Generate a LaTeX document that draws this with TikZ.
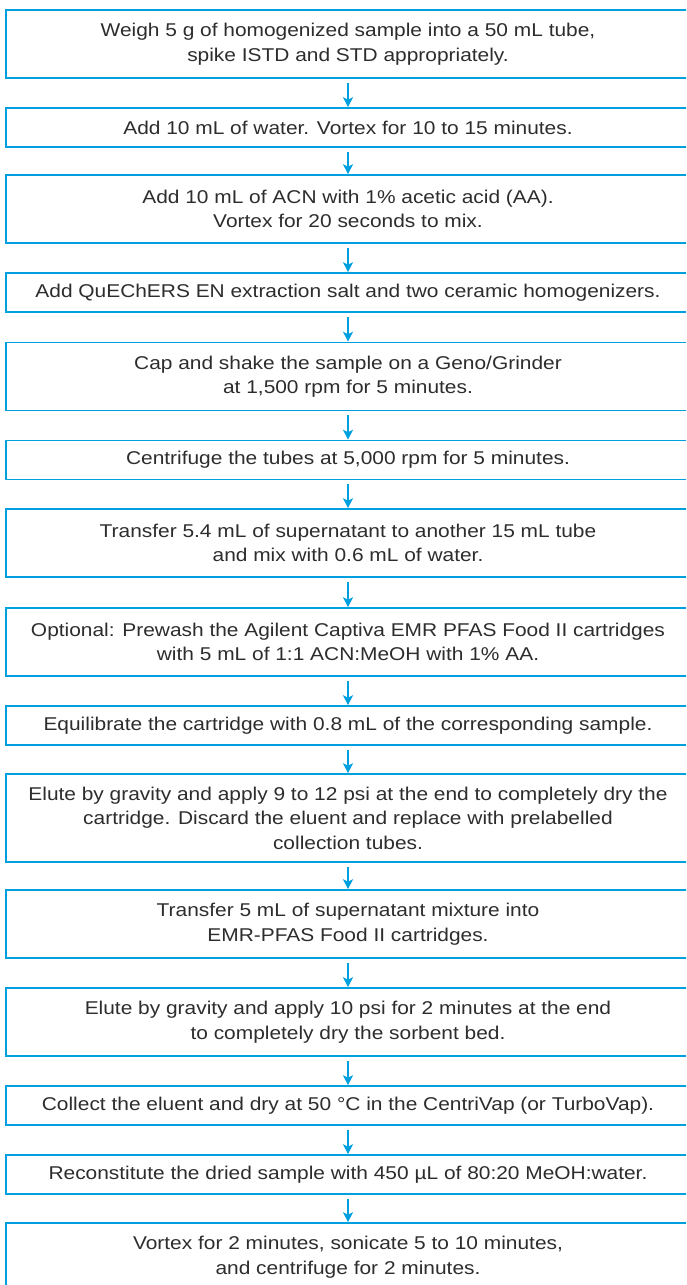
\documentclass[tikz,border=0pt]{standalone}
\usepackage{fontspec}
\setmainfont{Liberation Sans}[FakeStretch=1.13]
\usetikzlibrary{arrows.meta}
\definecolor{agblue}{RGB}{0,160,223}
\definecolor{txt}{RGB}{45,45,45}
\tikzset{
  stepbox/.style={draw=agblue, line width=1.6pt, minimum width=684pt, inner sep=0pt,
    align=center, text=txt, font=\fontsize{18.5}{24.5}\selectfont},
  one/.style={stepbox, minimum height=39pt},
  two/.style={stepbox, minimum height=68pt},
  three/.style={stepbox, minimum height=88pt},
  arr/.style={draw=agblue, line width=1.3pt, -{Stealth[length=10pt,width=10pt,inset=2.5pt]}}
}
\begin{document}
\begin{tikzpicture}[x=1pt,y=-1pt]
\useasboundingbox (0,0) rectangle (686,1285);
\clip (0,0) rectangle (686,1285);
\fill[white] (0,0) rectangle (686,1285);
\node[two]   (b1)  at (348,44)    {Weigh 5 g of homogenized sample into a 50 mL tube,\\ spike ISTD and STD appropriately.};
\node[one]   (b2)  at (348,127.5) {Add 10 mL of water. Vortex for 10 to 15 minutes.};
\node[two]   (b3)  at (348,209)   {Add 10 mL of ACN with 1\% acetic acid (AA).\\ Vortex for 20 seconds to mix.};
\node[one]   (b4)  at (348,292.5) {Add QuEChERS EN extraction salt and two ceramic homogenizers.};
\node[two]   (b5)  at (348,376.5) {Cap and shake the sample on a Geno/Grinder\\ at 1,500 rpm for 5 minutes.};
\node[one]   (b6)  at (348,460)   {Centrifuge the tubes at 5,000 rpm for 5 minutes.};
\node[two]   (b7)  at (348,543)   {Transfer 5.4 mL of supernatant to another 15 mL tube\\ and mix with 0.6 mL of water.};
\node[two]   (b8)  at (348,642)   {Optional: Prewash the Agilent Captiva EMR PFAS Food II cartridges\\ with 5 mL of 1:1 ACN:MeOH with 1\% AA.};
\node[one]   (b9)  at (348,725.5) {Equilibrate the cartridge with 0.8 mL of the corresponding sample.};
\node[three] (b10) at (348,818)   {Elute by gravity and apply 9 to 12 psi at the end to completely dry the\\ cartridge. Discard the eluent and replace with prelabelled\\ collection tubes.};
\node[two]   (b11) at (348,924)   {Transfer 5 mL of supernatant mixture into\\ EMR-PFAS Food II cartridges.};
\node[two]   (b12) at (348,1022)  {Elute by gravity and apply 10 psi for 2 minutes at the end\\ to completely dry the sorbent bed.};
\node[one]   (b13) at (348,1105.5){Collect the eluent and dry at 50 °C in the CentriVap (or TurboVap).};
\node[one]   (b14) at (348,1174.5){Reconstitute the dried sample with 450 µL of 80:20 MeOH:water.};
\node[two]   (b15) at (348,1257)  {Vortex for 2 minutes, sonicate 5 to 10 minutes,\\ and centrifuge for 2 minutes.};
\foreach \a/\b in {b1/b2,b2/b3,b3/b4,b4/b5,b5/b6,b6/b7,b7/b8,b8/b9,b9/b10,b10/b11,b11/b12,b12/b13,b13/b14,b14/b15}
  \draw[arr] ([yshift=-4pt]\a.south) -- (\b.north);
\end{tikzpicture}
\end{document}
